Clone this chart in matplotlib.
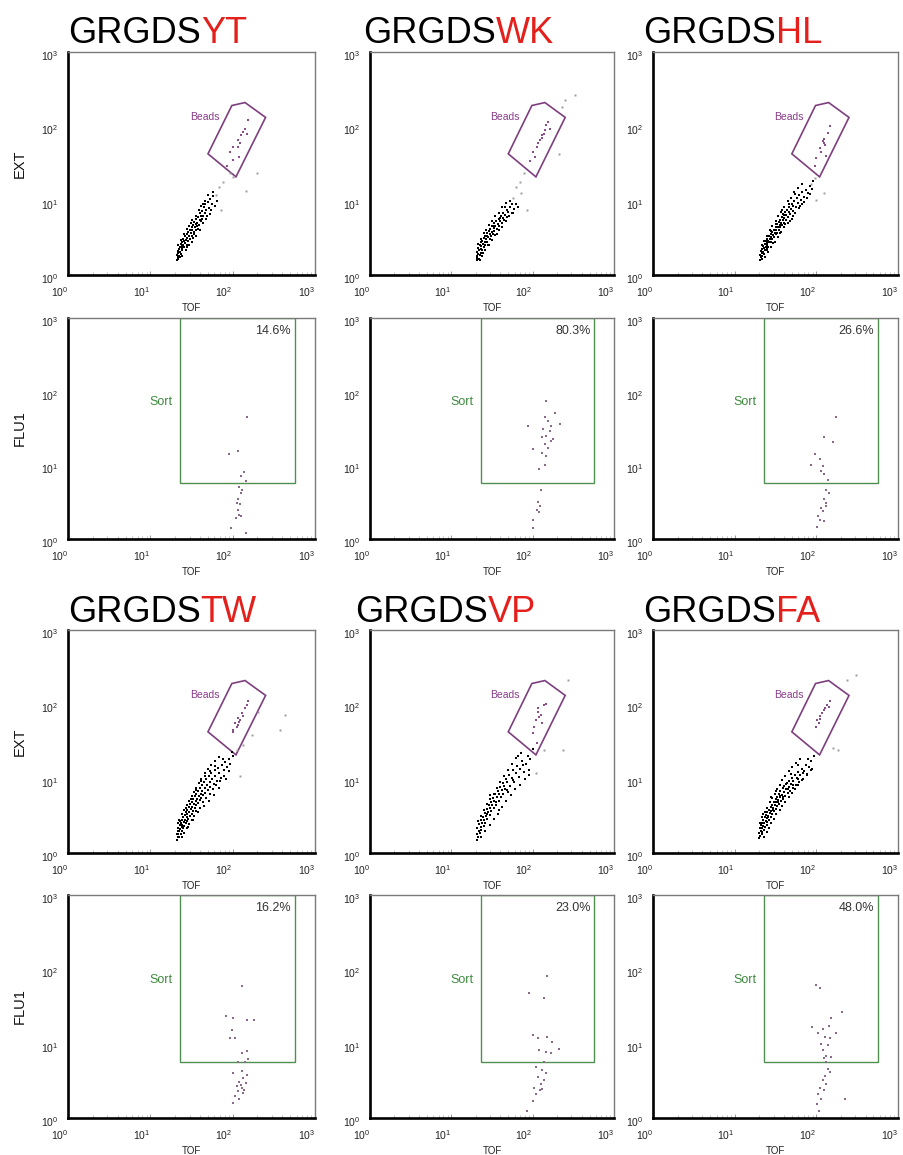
import numpy as np
import matplotlib
matplotlib.use("Agg")
import matplotlib.pyplot as plt
from matplotlib.patches import Polygon, Rectangle
from matplotlib.ticker import LogLocator, NullFormatter
from matplotlib.transforms import ScaledTranslation

plt.rcParams['font.family'] = ['Liberation Sans', 'DejaVu Sans']
plt.rcParams['mathtext.fontset'] = 'custom'
plt.rcParams['mathtext.rm'] = 'Liberation Sans'
plt.rcParams['mathtext.it'] = 'Liberation Sans:italic'
plt.rcParams['mathtext.bf'] = 'Liberation Sans:bold'

# ---- data (all event coordinates are log10 values of TOF / EXT / FLU1) ----
peptides = ['YT', 'WK', 'HL', 'TW', 'VP', 'FA']
sort_pct = ['14.6%', '80.3%', '26.6%', '16.2%', '23.0%', '48.0%']

beads_gate = [(1.70, 1.63), (1.99, 2.28), (2.15, 2.32), (2.40, 2.12), (2.04, 1.32)]
sort_gate = [1.36, 0.76, 2.76, 3.0]   # x0, y0, x1, y1

# EXT vs TOF: main (black) population
yt_core = [(1.32,0.20),(1.32,0.27),(1.33,0.24),(1.33,0.32),(1.34,0.22),(1.34,0.29),(1.35,0.35),(1.35,0.26),
           (1.36,0.31),(1.36,0.38),(1.37,0.28),(1.37,0.42),(1.38,0.34),(1.38,0.39),(1.39,0.45),(1.39,0.36),
           (1.40,0.41),(1.40,0.49),(1.41,0.38),(1.41,0.46),(1.42,0.43),(1.42,0.52),(1.43,0.47),(1.44,0.41),
           (1.44,0.55),(1.45,0.50),(1.46,0.46),(1.46,0.58),(1.47,0.53),(1.48,0.60),(1.48,0.49),(1.49,0.56),
           (1.50,0.64),(1.50,0.53),(1.51,0.60),(1.52,0.67),(1.53,0.58),(1.53,0.71),(1.54,0.64),(1.55,0.69),
           (1.56,0.61),(1.56,0.75),(1.57,0.70),(1.58,0.78),(1.59,0.67),(1.60,0.74),(1.60,0.83),(1.61,0.79),
           (1.62,0.72),(1.63,0.86),(1.64,0.80),(1.65,0.91),(1.66,0.84),(1.67,0.95),(1.68,0.88),(1.70,0.98),
           (1.71,0.90),(1.73,1.02),(1.75,0.96),(1.76,1.06),(1.64,0.95),(1.58,0.62),(1.52,0.50),(1.45,0.38),
           (1.69,0.79),(1.74,0.88),
           (1.34,0.41),(1.37,0.47),(1.41,0.55),(1.44,0.62),(1.47,0.66),(1.51,0.74),(1.55,0.79),(1.59,0.88),
           (1.62,0.93),(1.66,0.99),(1.70,1.07),(1.39,0.25),(1.43,0.33),(1.47,0.41),(1.51,0.45),(1.55,0.52),
           (1.60,0.60),(1.64,0.70),(1.68,0.75),(1.72,0.82),(1.78,0.93),(1.76,1.12),(1.81,1.00),(1.36,0.24),
           (1.49,0.70),(1.57,0.66),(1.63,0.76),(1.53,0.55)]
wk_core = [(1.31,0.20),(1.31,0.26),(1.32,0.31),(1.32,0.23),(1.33,0.36),(1.33,0.28),(1.34,0.21),(1.34,0.33),
           (1.35,0.40),(1.35,0.27),(1.36,0.35),(1.36,0.44),(1.37,0.30),(1.37,0.39),(1.38,0.46),(1.38,0.34),
           (1.39,0.42),(1.40,0.50),(1.40,0.37),(1.41,0.45),(1.42,0.53),(1.42,0.41),(1.43,0.48),(1.44,0.56),
           (1.44,0.44),(1.45,0.51),(1.46,0.59),(1.47,0.48),(1.47,0.55),(1.48,0.62),(1.49,0.52),(1.50,0.58),
           (1.50,0.66),(1.51,0.55),(1.52,0.63),(1.53,0.70),(1.53,0.59),(1.54,0.66),(1.55,0.73),(1.56,0.62),
           (1.57,0.69),(1.58,0.76),(1.59,0.66),(1.60,0.72),(1.61,0.80),(1.62,0.70),(1.63,0.77),(1.64,0.84),
           (1.65,0.74),(1.66,0.81),(1.68,0.88),(1.69,0.78),(1.70,0.85),(1.72,0.92),(1.74,0.83),(1.75,0.95),
           (1.77,0.89),(1.39,0.30),(1.45,0.40),(1.56,0.55),(1.66,0.92),(1.72,0.99),
           (1.33,0.42),(1.36,0.49),(1.40,0.56),(1.43,0.61),(1.46,0.67),(1.50,0.73),(1.54,0.79),(1.58,0.84),
           (1.62,0.91),(1.67,0.97),(1.38,0.26),(1.42,0.33),(1.46,0.40),(1.50,0.47),(1.54,0.54),(1.58,0.60),
           (1.62,0.65),(1.67,0.72),(1.71,0.80),(1.76,0.84),(1.79,0.96),(1.82,0.92),(1.35,0.20),(1.44,0.52),
           (1.52,0.66),(1.60,0.77),(1.69,0.88)]
hl_core = [(1.31,0.20),(1.31,0.27),(1.32,0.24),(1.32,0.32),(1.33,0.22),(1.33,0.29),(1.34,0.35),(1.34,0.26),
           (1.35,0.31),(1.35,0.39),(1.36,0.28),(1.36,0.36),(1.37,0.42),(1.37,0.33),(1.38,0.38),(1.38,0.46),
           (1.39,0.35),(1.39,0.43),(1.40,0.49),(1.40,0.40),(1.41,0.46),(1.41,0.37),(1.42,0.52),(1.42,0.44),
           (1.43,0.49),(1.44,0.55),(1.44,0.45),(1.45,0.51),(1.46,0.58),(1.46,0.48),(1.47,0.54),(1.48,0.61),
           (1.48,0.51),(1.49,0.57),(1.50,0.64),(1.50,0.55),(1.51,0.61),(1.52,0.68),(1.52,0.57),(1.53,0.64),
           (1.54,0.71),(1.54,0.60),(1.55,0.67),(1.56,0.74),(1.56,0.64),(1.57,0.70),(1.58,0.78),(1.58,0.67),
           (1.59,0.74),(1.60,0.81),(1.60,0.70),(1.61,0.77),(1.62,0.85),(1.63,0.74),(1.63,0.81),(1.64,0.88),
           (1.65,0.78),(1.66,0.85),(1.67,0.92),(1.68,0.82),(1.69,0.89),(1.70,0.96),(1.71,0.86),(1.72,0.93),
           (1.73,1.00),(1.75,0.91),(1.76,1.03),(1.78,0.97),(1.79,1.07),(1.81,1.01),(1.83,1.11),(1.85,1.05),
           (1.87,1.15),(1.90,1.10),(1.92,1.20),(1.95,1.16),(1.96,1.26),(1.58,0.88),(1.68,0.72),(1.74,1.09),
           (1.85,0.98),
           (1.33,0.40),(1.36,0.46),(1.39,0.52),(1.43,0.60),(1.46,0.66),(1.50,0.72),(1.53,0.79),(1.57,0.85),
           (1.61,0.92),(1.65,0.99),(1.69,1.04),(1.73,1.12),(1.78,1.17),(1.82,1.22),(1.37,0.24),(1.41,0.31),
           (1.45,0.38),(1.49,0.45),(1.53,0.51),(1.57,0.58),(1.61,0.64),(1.65,0.70),(1.70,0.76),(1.74,0.83),
           (1.79,0.90),(1.83,0.95),(1.88,1.03),(1.92,1.09),(1.40,0.33),(1.47,0.43),(1.55,0.57),(1.62,0.69),
           (1.72,0.80),(1.80,0.93),(1.44,0.59),(1.51,0.69),(1.59,0.82),(1.67,0.95)]
tw_core = [(1.32,0.18),(1.32,0.25),(1.33,0.21),(1.33,0.30),(1.34,0.26),(1.34,0.34),(1.35,0.22),(1.35,0.29),
           (1.36,0.37),(1.36,0.32),(1.37,0.26),(1.37,0.41),(1.38,0.35),(1.38,0.30),(1.39,0.44),(1.39,0.38),
           (1.40,0.33),(1.40,0.48),(1.41,0.42),(1.41,0.36),(1.42,0.51),(1.42,0.45),(1.43,0.40),(1.43,0.55),
           (1.44,0.49),(1.44,0.43),(1.45,0.58),(1.45,0.52),(1.46,0.46),(1.47,0.62),(1.47,0.55),(1.48,0.50),
           (1.48,0.66),(1.49,0.59),(1.50,0.53),(1.50,0.69),(1.51,0.62),(1.52,0.57),(1.52,0.73),(1.53,0.66),
           (1.54,0.60),(1.54,0.77),(1.55,0.70),(1.56,0.64),(1.56,0.80),(1.57,0.73),(1.58,0.67),(1.58,0.84),
           (1.59,0.77),(1.60,0.71),(1.60,0.88),(1.61,0.80),(1.62,0.74),(1.63,0.91),(1.63,0.84),(1.64,0.78),
           (1.65,0.95),(1.66,0.88),(1.67,0.81),(1.68,0.99),(1.69,0.92),(1.70,0.85),(1.71,1.03),(1.72,0.96),
           (1.73,0.89),(1.74,1.07),(1.75,1.00),(1.77,0.93),(1.78,1.11),(1.79,1.04),(1.81,0.97),(1.82,1.15),
           (1.84,1.08),(1.86,1.01),(1.87,1.19),(1.89,1.12),(1.91,1.23),(1.93,1.16),(1.95,1.27),(1.97,1.20),
           (2.00,1.31),(1.99,1.36),(1.88,1.27),
           (1.33,0.41),(1.35,0.45),(1.38,0.52),(1.41,0.58),(1.44,0.64),(1.47,0.70),(1.50,0.77),(1.53,0.82),
           (1.56,0.88),(1.59,0.94),(1.62,1.00),(1.66,1.07),(1.70,1.13),(1.74,1.18),(1.78,1.24),(1.83,1.29),
           (1.38,0.22),(1.41,0.27),(1.44,0.33),(1.47,0.39),(1.50,0.44),(1.53,0.50),(1.56,0.56),(1.60,0.61),
           (1.64,0.68),(1.68,0.74),(1.72,0.80),(1.76,0.86),(1.80,0.91),(1.85,0.97),(1.90,1.04),(1.95,1.10),
           (1.36,0.43),(1.43,0.61),(1.49,0.72),(1.55,0.85),(1.61,0.97),(1.67,1.04),(1.73,1.10),(1.79,1.17),
           (1.46,0.35),(1.52,0.45),(1.58,0.55),(1.65,0.63),(1.71,0.70),(1.77,0.78),(1.83,0.87),(1.92,1.00)]
vp_core = [(1.31,0.18),(1.32,0.26),(1.32,0.33),(1.33,0.22),(1.34,0.30),(1.34,0.39),(1.35,0.27),(1.36,0.35),
           (1.37,0.44),(1.37,0.31),(1.38,0.40),(1.39,0.49),(1.40,0.36),(1.40,0.45),(1.41,0.54),(1.42,0.41),
           (1.43,0.50),(1.44,0.59),(1.44,0.46),(1.45,0.55),(1.46,0.64),(1.47,0.51),(1.48,0.60),(1.49,0.69),
           (1.49,0.56),(1.50,0.65),(1.51,0.74),(1.52,0.60),(1.53,0.70),(1.54,0.79),(1.55,0.65),(1.56,0.75),
           (1.57,0.84),(1.58,0.70),(1.59,0.80),(1.60,0.89),(1.61,0.75),(1.62,0.85),(1.63,0.94),(1.64,0.80),
           (1.65,0.90),(1.67,0.99),(1.68,0.85),(1.69,0.95),(1.71,1.05),(1.72,0.90),(1.74,1.01),(1.76,1.11),
           (1.77,0.96),(1.79,1.07),(1.81,1.17),(1.83,1.02),(1.85,1.13),(1.87,1.24),(1.89,1.09),(1.92,1.20),
           (1.94,1.31),(1.97,1.26),(2.00,1.40),(1.48,0.78),(1.58,0.58),(1.70,0.82),(1.82,1.30),(1.95,1.12),
           (1.33,0.43),(1.36,0.50),(1.40,0.58),(1.44,0.66),(1.48,0.72),(1.52,0.80),(1.56,0.88),(1.60,0.96),
           (1.65,1.04),(1.70,1.12),(1.75,1.20),(1.80,1.28),(1.86,1.35),(1.37,0.22),(1.42,0.30),(1.47,0.38),
           (1.52,0.46),(1.57,0.53),(1.62,0.62),(1.67,0.70),(1.73,0.78),(1.78,0.86),(1.84,0.92),(1.90,0.99),
           (1.96,1.05),(1.44,0.52),(1.55,0.68),(1.66,0.86),(1.76,0.98),(1.88,1.18)]
fa_core = [(1.30,0.20),(1.30,0.27),(1.31,0.33),(1.31,0.23),(1.32,0.29),(1.32,0.37),(1.33,0.25),(1.33,0.33),
           (1.34,0.41),(1.34,0.28),(1.35,0.36),(1.35,0.44),(1.36,0.31),(1.36,0.40),(1.37,0.48),(1.37,0.35),
           (1.38,0.43),(1.38,0.51),(1.39,0.38),(1.39,0.47),(1.40,0.55),(1.40,0.42),(1.41,0.50),(1.42,0.58),
           (1.42,0.45),(1.43,0.54),(1.44,0.62),(1.44,0.49),(1.45,0.57),(1.46,0.65),(1.46,0.52),(1.47,0.61),
           (1.48,0.69),(1.48,0.56),(1.49,0.64),(1.50,0.72),(1.50,0.59),(1.51,0.68),(1.52,0.76),(1.52,0.63),
           (1.53,0.71),(1.54,0.79),(1.54,0.66),(1.55,0.75),(1.56,0.83),(1.57,0.70),(1.58,0.78),(1.59,0.87),
           (1.59,0.73),(1.60,0.82),(1.61,0.90),(1.62,0.77),(1.63,0.86),(1.64,0.94),(1.65,0.81),(1.66,0.89),
           (1.67,0.97),(1.68,0.84),(1.69,0.93),(1.70,1.01),(1.71,0.88),(1.72,0.97),(1.74,1.05),(1.75,0.92),
           (1.76,1.01),(1.78,1.09),(1.79,0.96),(1.80,1.05),(1.82,1.13),(1.84,1.00),(1.85,1.10),(1.87,1.18),
           (1.89,1.06),(1.91,1.16),(1.93,1.24),(1.95,1.13),(1.97,1.30),(1.90,1.26),(1.78,1.18),
           (1.31,0.40),(1.34,0.48),(1.37,0.55),(1.40,0.61),(1.43,0.68),(1.46,0.74),(1.49,0.80),(1.52,0.86),
           (1.55,0.92),(1.58,0.98),(1.62,1.04),(1.66,1.10),(1.70,1.16),(1.75,1.21),(1.80,1.27),(1.36,0.22),
           (1.39,0.28),(1.42,0.34),(1.45,0.40),(1.48,0.46),(1.51,0.52),(1.55,0.58),(1.58,0.63),(1.62,0.69),
           (1.66,0.75),(1.70,0.81),(1.74,0.86),(1.78,0.92),(1.83,0.98),(1.88,1.05),(1.93,1.12),(1.35,0.52),
           (1.41,0.48),(1.47,0.58),(1.53,0.68),(1.59,0.76),(1.65,0.86),(1.71,0.92),(1.77,1.00),(1.84,1.08),
           (1.44,0.75),(1.50,0.83),(1.56,0.77),(1.63,0.93),(1.69,1.06)]

# EXT vs TOF: sparse events outside the bead gate
yt_side = [(2.16,1.13),(2.29,1.37),(1.80,1.07),(1.84,1.19),(1.88,1.25),(1.97,1.37),(1.86,0.87),(2.01,1.32)]
wk_side = [(1.80,1.19),(1.84,1.25),(1.76,1.03),(1.86,1.10),(1.93,0.87),(1.89,1.37),(2.40,2.35),(2.36,2.26),
           (2.52,2.42),(2.32,1.63)]
hl_side = [(2.10,1.10),(2.00,1.01),(1.98,1.30),(1.93,1.22)]
tw_side = [(2.63,1.86),(2.57,1.66),(2.31,1.90),(2.23,1.59),(2.09,1.03),(2.05,1.38),(2.12,1.45)]
vp_side = [(2.37,1.39),(2.04,1.07),(2.43,2.33),(2.14,1.38)]
fa_side = [(2.48,2.40),(2.38,2.33),(2.26,1.39),(2.20,1.41)]

# EXT vs TOF: events inside the bead gate
yt_gate = [(1.97,1.66),(2.01,1.72),(2.07,1.81),(2.10,1.88),(2.13,1.93),(2.15,1.97),(2.17,1.90),(2.19,2.08),
           (2.06,1.72),(2.09,1.77),(2.01,1.55),(2.08,1.59),(1.93,1.46)]
wk_gate = [(2.01,1.66),(2.05,1.72),(2.09,1.81),(2.15,1.95),(2.17,2.02),(2.12,1.88),(2.07,1.77),(2.19,2.06),
           (2.21,1.97),(2.03,1.59),(1.97,1.54),(2.11,1.84),(2.14,1.90)]
hl_gate = [(2.08,1.80),(2.10,1.78),(2.04,1.71),(2.06,1.66),(2.14,1.91),(2.17,2.00),(2.00,1.57),(2.12,1.60),
           (1.98,1.46),(2.09,1.83),(2.11,1.75)]
tw_gate = [(2.01,1.66),(2.03,1.75),(2.07,1.81),(2.11,1.88),(2.15,1.95),(2.17,1.99),(2.09,1.79),(2.06,1.72),
           (2.00,1.63),(2.19,2.04),(2.08,1.76),(2.12,1.84),(2.05,1.70)]
vp_gate = [(2.02,1.70),(2.04,1.79),(2.10,1.86),(2.07,1.95),(2.14,1.99),(2.00,1.61),(2.05,1.48),(2.16,2.01),
           (2.12,1.75),(2.08,1.83),(2.06,1.90)]
fa_gate = [(2.01,1.79),(2.05,1.84),(2.09,1.93),(2.13,1.99),(2.17,2.04),(2.03,1.75),(2.07,1.88),(2.15,1.97),
           (1.99,1.70),(2.11,1.95),(2.04,1.80)]

# FLU1 vs TOF of the gated beads
yt_flu = [(2.18,1.65),(1.95,1.16),(2.06,1.19),(2.10,0.85),(2.14,0.91),(2.16,0.79),(2.08,0.70),(2.10,0.63),
          (2.07,0.54),(2.09,0.47),(2.06,0.40),(2.08,0.33),(2.04,0.29),(1.98,0.15),(2.16,0.08),(2.11,0.67),
          (2.05,0.49),(2.10,0.31)]
wk_flu = [(2.17,1.88),(1.94,1.53),(2.15,1.65),(2.19,1.60),(2.27,1.71),(2.33,1.56),(2.13,1.49),(2.21,1.47),
          (2.17,1.40),(2.25,1.36),(2.15,1.29),(2.19,1.24),(2.01,1.22),(2.11,1.17),(2.17,1.13),(2.15,1.01),
          (2.08,0.95),(2.10,0.67),(2.06,0.50),(2.09,0.45),(2.05,0.40),(2.08,0.36),(2.00,0.26),(2.00,0.15),
          (2.23,1.54),(2.12,1.38),(2.22,1.33)]
hl_flu = [(2.24,1.65),(2.10,1.39),(2.21,1.31),(1.98,1.15),(2.05,1.08),(1.93,1.01),(2.08,0.99),(2.06,0.92),
          (2.10,0.88),(2.14,0.80),(2.12,0.67),(2.16,0.62),(2.09,0.54),(2.12,0.49),(2.06,0.42),(2.08,0.38),
          (2.02,0.31),(2.05,0.26),(2.10,0.24),(2.01,0.16),(2.12,0.45)]
tw_flu = [(2.11,1.77),(1.92,1.37),(2.01,1.35),(2.17,1.32),(2.26,1.32),(1.99,1.19),(1.97,1.08),(2.03,1.08),
          (2.11,0.88),(2.17,0.90),(2.07,0.76),(2.15,0.75),(2.19,0.79),(2.01,0.61),(2.11,0.63),(2.13,0.54),
          (2.08,0.49),(2.16,0.47),(2.11,0.40),(2.06,0.36),(2.14,0.38),(2.03,0.29),(2.08,0.25),(2.01,0.20),
          (2.10,0.45),(2.18,0.58),(2.05,0.43),(2.12,0.34)]
vp_flu = [(2.18,1.91),(1.95,1.68),(2.14,1.62),(2.00,1.11),(2.06,1.07),(2.18,1.09),(2.24,1.02),(2.32,0.93),
          (2.08,0.91),(2.16,0.89),(2.22,0.87),(2.14,0.75),(2.04,0.69),(2.11,0.64),(2.17,0.60),(2.07,0.55),
          (2.14,0.51),(2.10,0.46),(2.02,0.41),(2.09,0.37),(2.04,0.32),(2.00,0.23),(1.93,0.10),(2.12,0.39)]
fa_flu = [(2.00,1.79),(2.04,1.75),(2.31,1.42),(2.18,1.34),(1.95,1.23),(2.08,1.20),(2.16,1.24),(2.24,1.14),
          (2.02,1.14),(2.11,1.09),(2.17,1.07),(2.06,1.00),(2.14,0.98),(2.08,0.91),(2.12,0.84),(2.18,0.82),
          (2.10,0.81),(2.14,0.66),(2.17,0.62),(2.11,0.57),(2.08,0.51),(2.12,0.46),(2.04,0.41),(2.09,0.37),
          (2.02,0.32),(2.06,0.26),(2.01,0.19),(2.03,0.10),(2.35,0.26),(2.12,0.75)]

core_sets = [yt_core, wk_core, hl_core, tw_core, vp_core, fa_core]
side_sets = [yt_side, wk_side, hl_side, tw_side, vp_side, fa_side]
gate_sets = [yt_gate, wk_gate, hl_gate, tw_gate, vp_gate, fa_gate]
flu_sets = [yt_flu, wk_flu, hl_flu, tw_flu, vp_flu, fa_flu]

# ---- layout (pixels) ----
W, H = 904, 1155
col_l = [68, 370, 653]
col_r = [315, 614, 898]
row_t = [52, 318, 630, 895]
row_b = [275, 539, 853, 1118]
title_x = [[68, 363, 643], [68, 355, 643]]
title_base = [43, 622]

fig = plt.figure(figsize=(W / 100, H / 100), dpi=100)
fig.patch.set_facecolor('white')
ylab_shift = ScaledTranslation(0, -3 / 100, fig.dpi_scale_trans)


def L(pts):
    a = np.array(pts, dtype=float)
    return 10 ** a[:, 0], 10 ** a[:, 1]


def make_axes(r, c):
    ax = fig.add_axes([col_l[c] / W, 1 - row_b[r] / H,
                       (col_r[c] - col_l[c]) / W, (row_b[r] - row_t[r]) / H])
    ax.set_xscale('log')
    ax.set_yscale('log')
    ax.set_xlim(1, 1000)
    ax.set_ylim(1, 1000)
    ticks = [1, 10, 100, 1000]
    labs = [r'$10^{%d}$' % i for i in range(4)]
    ax.set_xticks(ticks)
    ax.set_xticklabels(labs, ha='right')
    ax.set_yticks(ticks)
    ax.set_yticklabels(labs)
    ax.xaxis.set_minor_locator(LogLocator(base=10, subs=np.arange(2, 10)))
    ax.xaxis.set_minor_formatter(NullFormatter())
    ax.yaxis.set_minor_locator(LogLocator(base=10, subs=[]))
    ax.tick_params(axis='x', which='major', direction='in', length=3, width=0.6,
                   color='#888888', labelsize=7.5, labelcolor='#222222', pad=7.5)
    ax.tick_params(axis='x', which='minor', direction='in', length=2, width=0.5, color='#aaaaaa')
    ax.tick_params(axis='y', which='major', direction='in', length=0,
                   labelsize=7.5, labelcolor='#222222', pad=7)
    for lab in ax.get_yticklabels():
        lab.set_transform(lab.get_transform() + ylab_shift)
    for s in ['left', 'bottom']:
        ax.spines[s].set_linewidth(1.9)
        ax.spines[s].set_color('black')
    for s in ['top', 'right']:
        ax.spines[s].set_linewidth(1.0)
        ax.spines[s].set_color('#7a7a7a')
    ax.set_xlabel('TOF', fontsize=7, color='#222222')
    ax.xaxis.set_label_coords(0.5, -0.125)
    ax.xaxis.label.set_va('top')
    return ax


for i, pep in enumerate(peptides):
    block = i // 3
    c = i % 3
    r_ext = block * 2
    r_flu = block * 2 + 1

    # EXT vs TOF
    ax = make_axes(r_ext, c)
    x, y = L(core_sets[i])
    ax.plot(x, y, ls='none', marker='s', ms=1.6, mew=0, color='black')
    x, y = L(side_sets[i])
    ax.plot(x, y, ls='none', marker='s', ms=1.4, mew=0, color='#9a9a9a')
    x, y = L(gate_sets[i])
    ax.plot(x, y, ls='none', marker='s', ms=1.5, mew=0, color='#8a4f8a')
    gx, gy = L(beads_gate)
    ax.add_patch(Polygon(np.column_stack([gx, gy]), closed=True, fill=False,
                         edgecolor='#7d3f7d', lw=1.2))
    ax.text(10 ** 1.84, 10 ** 2.13, 'Beads', fontsize=7.5, color='#8b3a8b',
            ha='right', va='center')
    if c == 0:
        fig.text(20 / W, 1 - (row_t[r_ext] + row_b[r_ext]) / 2 / H, 'EXT', rotation=90,
                 fontsize=10.5, ha='center', va='center', color='#111111')

    # FLU1 vs TOF
    ax2 = make_axes(r_flu, c)
    x, y = L(flu_sets[i])
    ax2.plot(x, y, ls='none', marker='s', ms=1.5, mew=0, color='#8a6a8a')
    x0, y0, x1, y1 = sort_gate
    ax2.add_patch(Rectangle((10 ** x0, 10 ** y0), 10 ** x1 - 10 ** x0, 10 ** y1 - 10 ** y0,
                            fill=False, edgecolor='#4f8f4f', lw=1.0))
    ax2.text(10 ** 1.27, 10 ** 1.86, 'Sort', fontsize=9, color='#3d8b3d', ha='right', va='center')
    ax2.text(10 ** 2.71, 10 ** 2.82, sort_pct[i], fontsize=9, color='#333333', ha='right', va='center')
    if c == 0:
        fig.text(20 / W, 1 - (row_t[r_flu] + row_b[r_flu]) / 2 / H, 'FLU1', rotation=90,
                 fontsize=10.5, ha='center', va='center', color='#111111')

# titles: black prefix and red suffix
renderer = fig.canvas.get_renderer()
for i, pep in enumerate(peptides):
    block = i // 3
    c = i % 3
    tx = title_x[block][c] / W
    ty = 1 - title_base[block] / H
    t1 = fig.text(tx, ty, 'GRGDS', fontsize=26, color='black', ha='left', va='baseline')
    bb = t1.get_window_extent(renderer)
    fig.text(bb.x1 / W, ty, pep, fontsize=26, color='#e3201b', ha='left', va='baseline')

fig.savefig('out.png', dpi=100, facecolor='white')
